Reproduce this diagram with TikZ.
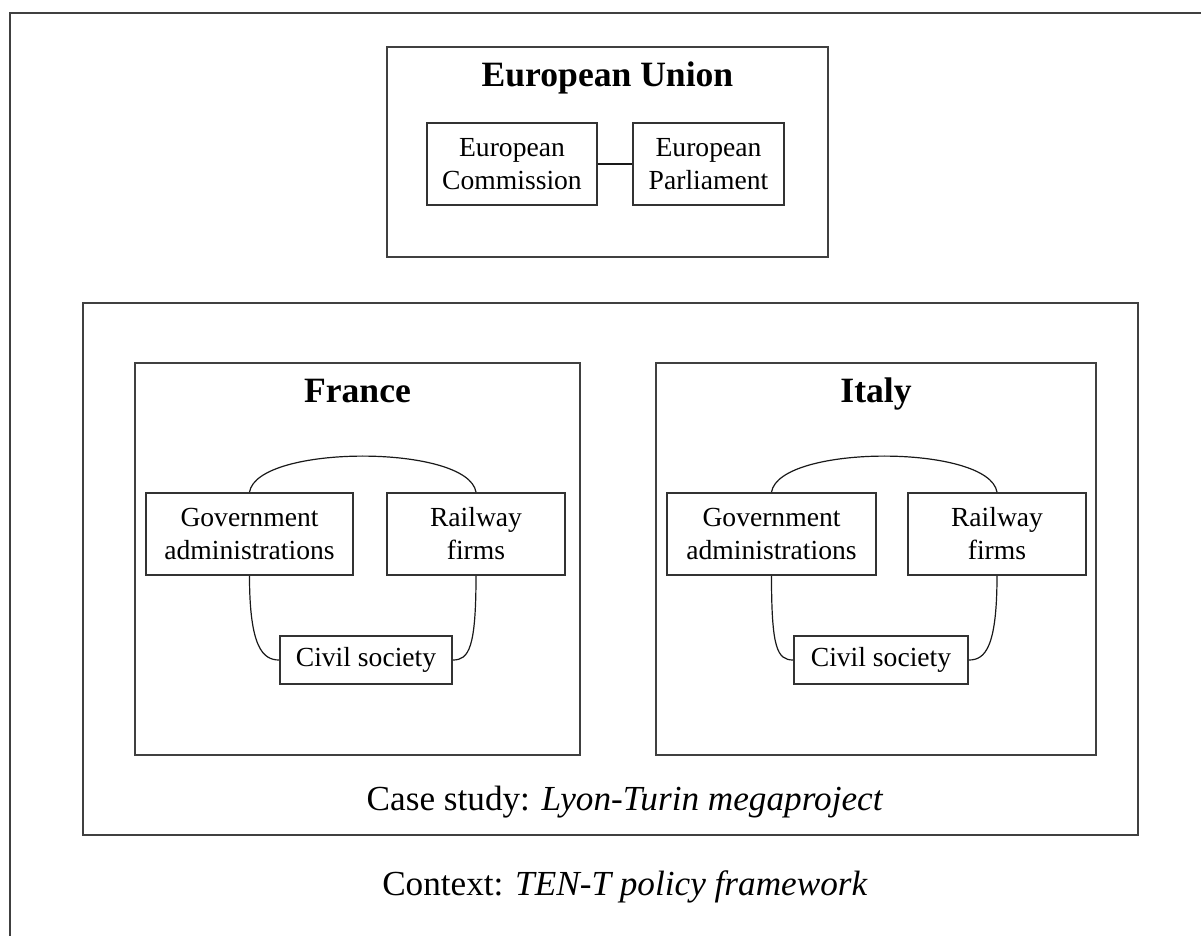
\documentclass[tikz,border=0pt]{standalone}
\usepackage{fontspec}
\setmainfont{Liberation Serif}
\begin{document}
\begin{tikzpicture}[
        x=0.5pt, y=-0.5pt,
        frame/.style={
            draw=black!75,
            line width=1pt
        },
        box/.style={
            rectangle,
            draw=black!80,
            line width=0.9pt,
            inner sep=0pt,
            minimum height=41pt,
            align=center,
            fill=white,
            font=\fontsize{13.8}{16.5}\selectfont
        },
        title/.style={
            anchor=base,
            font=\fontsize{17.8}{21}\selectfont\bfseries
        },
        caption/.style={
            anchor=base,
            font=\fontsize{17.6}{21}\selectfont
        },
        link/.style={
            draw=black!90,
            line width=0.6pt
        }
    ]

    \useasboundingbox (0,0) rectangle (1201,936);

    % context frame, cut off at the right and bottom
    \draw[frame] (10,936) -- (10,13) -- (1201,13);
    \node[caption] (context) at (625,895) {Context: \textit{TEN-T policy framework}};

    % European Union
    \draw[frame] (387,47) rectangle (828,257);
    \node[title] (eu_title) at (607.5,87) {European Union};
    \node[box, minimum width=85pt]   (eu_comm) at (512,164)   {European\\Commission};
    \node[box, minimum width=75.5pt] (eu_parl) at (708.5,164) {European\\Parliament};
    \draw[link] (eu_comm) -- (eu_parl);

    % case study
    \draw[frame] (83,303) rectangle (1138,835);
    \node[caption] (case) at (625,810) {Case study: \textit{Lyon-Turin megaproject}};

    % France
    \draw[frame] (135,363) rectangle (580,755);
    \node[title] (fr_title) at (357.5,403) {France};
    \node[box, minimum width=103.5pt] (fr_gov)  at (249.5,534) {Government\\administrations};
    \node[box, minimum width=89pt]    (fr_rail) at (476,534)   {Railway\\firms};
    \node[box, minimum width=86pt, minimum height=24pt] (fr_civ) at (366,660) {Civil society};

    \draw[link] (fr_gov.north) .. controls +(4pt,24pt) and +(-4pt,24pt) .. (fr_rail.north);
    \draw[link] (fr_gov.south) .. controls +(0pt,-36pt) and +(-8pt,0pt) .. (fr_civ.west);
    \draw[link] (fr_rail.south) .. controls +(0pt,-36pt) and +(8pt,0pt) .. (fr_civ.east);

    % Italy
    \draw[frame] (656,363) rectangle (1096,755);
    \node[title] (it_title) at (876,403) {Italy};
    \node[box, minimum width=104.5pt] (it_gov)  at (771.5,534) {Government\\administrations};
    \node[box, minimum width=89pt]    (it_rail) at (997,534)   {Railway\\firms};
    \node[box, minimum width=87pt, minimum height=24pt] (it_civ) at (881,660) {Civil society};

    \draw[link] (it_gov.north) .. controls +(4pt,24pt) and +(-4pt,24pt) .. (it_rail.north);
    \draw[link] (it_gov.south) .. controls +(0pt,-36pt) and +(-8pt,0pt) .. (it_civ.west);
    \draw[link] (it_rail.south) .. controls +(0pt,-36pt) and +(8pt,0pt) .. (it_civ.east);

\end{tikzpicture}
\end{document}
